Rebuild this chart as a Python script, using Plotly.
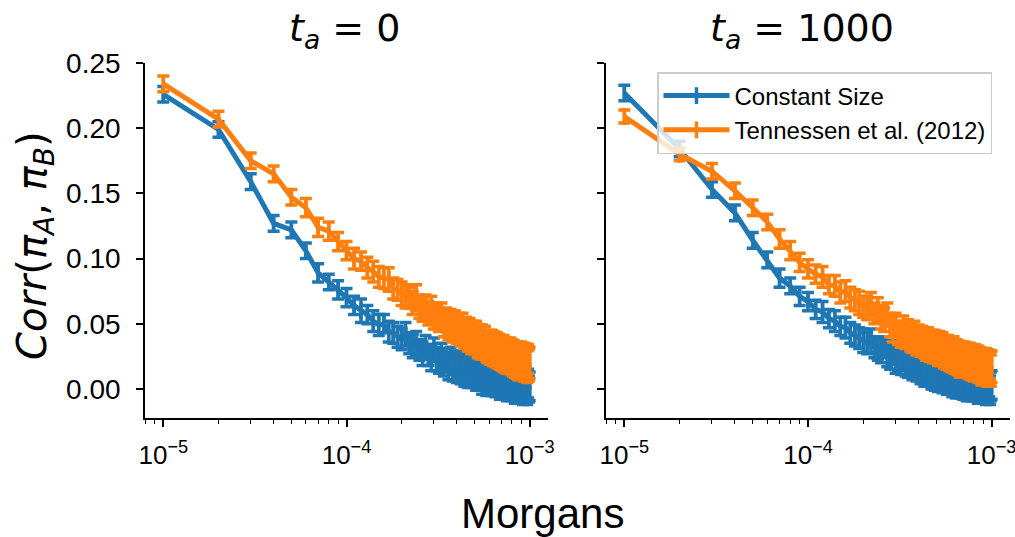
import plotly.graph_objects as go

# Genetic distance between the two loci (Morgans)
morgans = [
    1e-05, 2e-05, 3e-05, 4e-05, 5e-05, 6e-05, 7e-05, 8e-05, 9e-05, 1e-04,
    1.1e-04, 1.2e-04, 1.3e-04, 1.4e-04, 1.5e-04, 1.6e-04, 1.7e-04, 1.8e-04, 1.9e-04, 2e-04,
    2.1e-04, 2.2e-04, 2.3e-04, 2.4e-04, 2.5e-04, 2.6e-04, 2.7e-04, 2.8e-04, 2.9e-04, 3e-04,
    3.1e-04, 3.2e-04, 3.3e-04, 3.4e-04, 3.5e-04, 3.6e-04, 3.7e-04, 3.8e-04, 3.9e-04, 4e-04,
    4.1e-04, 4.2e-04, 4.3e-04, 4.4e-04, 4.5e-04, 4.6e-04, 4.7e-04, 4.8e-04, 4.9e-04, 5e-04,
    5.1e-04, 5.2e-04, 5.3e-04, 5.4e-04, 5.5e-04, 5.6e-04, 5.7e-04, 5.8e-04, 5.9e-04, 6e-04,
    6.1e-04, 6.2e-04, 6.3e-04, 6.4e-04, 6.5e-04, 6.6e-04, 6.7e-04, 6.8e-04, 6.9e-04, 7e-04,
    7.1e-04, 7.2e-04, 7.3e-04, 7.4e-04, 7.5e-04, 7.6e-04, 7.7e-04, 7.8e-04, 7.9e-04, 8e-04,
    8.1e-04, 8.2e-04, 8.3e-04, 8.4e-04, 8.5e-04, 8.6e-04, 8.7e-04, 8.8e-04, 8.9e-04, 9e-04,
    9.1e-04, 9.2e-04, 9.3e-04, 9.4e-04, 9.5e-04, 9.6e-04, 9.7e-04, 9.8e-04, 9.9e-04, 1e-03,
]

# t_a = 0 : constant size
corr_const_t0 = [
    0.226, 0.199, 0.159, 0.127, 0.122, 0.106, 0.089, 0.082, 0.076, 0.070,
    0.064, 0.060, 0.057, 0.052, 0.049, 0.050, 0.044, 0.043, 0.040, 0.038,
    0.042, 0.035, 0.033, 0.035, 0.030, 0.027, 0.032, 0.026, 0.024, 0.030,
    0.023, 0.021, 0.025, 0.019, 0.022, 0.017, 0.023, 0.016, 0.020, 0.015,
    0.019, 0.013, 0.018, 0.012, 0.016, 0.011, 0.017, 0.010, 0.014, 0.012,
    0.009, 0.015, 0.008, 0.012, 0.007, 0.013, 0.009, 0.006, 0.011, 0.007,
    0.012, 0.005, 0.010, 0.006, 0.004, 0.010, 0.005, 0.009, 0.003, 0.008,
    0.004, 0.009, 0.003, 0.007, 0.002, 0.008, 0.003, 0.006, 0.001, 0.007,
    0.002, 0.006, 0.000, 0.005, 0.001, 0.006, 0.002, 0.000, 0.005, 0.001,
    0.005, -0.001, 0.004, 0.000, 0.005, 0.001, -0.001, 0.004, 0.000, 0.002,
]
err_const_t0 = [
    0.006, 0.006, 0.006, 0.006, 0.006, 0.006, 0.007, 0.006, 0.007, 0.007,
    0.007, 0.009, 0.007, 0.008, 0.008, 0.007, 0.008, 0.008, 0.008, 0.008,
    0.009, 0.008, 0.009, 0.009, 0.008, 0.009, 0.009, 0.008, 0.010, 0.009,
    0.009, 0.009, 0.010, 0.009, 0.009, 0.010, 0.009, 0.010, 0.009, 0.010,
    0.010, 0.009, 0.010, 0.010, 0.009, 0.010, 0.010, 0.009, 0.010, 0.010,
    0.010, 0.010, 0.009, 0.010, 0.011, 0.010, 0.010, 0.011, 0.010, 0.010,
    0.011, 0.010, 0.010, 0.011, 0.010, 0.011, 0.010, 0.010, 0.011, 0.010,
    0.011, 0.010, 0.011, 0.010, 0.011, 0.010, 0.011, 0.011, 0.010, 0.011,
    0.010, 0.011, 0.011, 0.010, 0.011, 0.011, 0.010, 0.011, 0.011, 0.010,
    0.011, 0.011, 0.010, 0.011, 0.011, 0.010, 0.011, 0.011, 0.010, 0.011,
]

# t_a = 0 : Tennessen et al. (2012)
corr_tenn_t0 = [
    0.234, 0.207, 0.175, 0.165, 0.147, 0.139, 0.124, 0.121, 0.113, 0.106,
    0.100, 0.098, 0.093, 0.090, 0.086, 0.085, 0.084, 0.077, 0.076, 0.073,
    0.071, 0.070, 0.066, 0.070, 0.063, 0.061, 0.063, 0.058, 0.061, 0.055,
    0.056, 0.053, 0.056, 0.050, 0.053, 0.048, 0.051, 0.046, 0.050, 0.045,
    0.048, 0.043, 0.047, 0.041, 0.045, 0.040, 0.044, 0.038, 0.041, 0.037,
    0.041, 0.035, 0.039, 0.034, 0.038, 0.033, 0.037, 0.032, 0.031, 0.035,
    0.030, 0.034, 0.029, 0.033, 0.028, 0.031, 0.027, 0.031, 0.026, 0.030,
    0.025, 0.029, 0.024, 0.028, 0.024, 0.027, 0.023, 0.027, 0.022, 0.026,
    0.021, 0.025, 0.021, 0.024, 0.020, 0.025, 0.019, 0.023, 0.020, 0.024,
    0.019, 0.022, 0.018, 0.023, 0.019, 0.022, 0.017, 0.023, 0.018, 0.020,
]
err_tenn_t0 = [
    0.006, 0.006, 0.006, 0.006, 0.006, 0.007, 0.007, 0.007, 0.007, 0.007,
    0.008, 0.007, 0.008, 0.008, 0.008, 0.008, 0.009, 0.008, 0.008, 0.009,
    0.009, 0.008, 0.009, 0.010, 0.009, 0.009, 0.009, 0.009, 0.010, 0.009,
    0.010, 0.009, 0.010, 0.010, 0.009, 0.010, 0.010, 0.010, 0.010, 0.010,
    0.010, 0.010, 0.011, 0.010, 0.010, 0.011, 0.010, 0.011, 0.011, 0.010,
    0.011, 0.011, 0.010, 0.011, 0.011, 0.010, 0.011, 0.011, 0.011, 0.010,
    0.011, 0.011, 0.011, 0.011, 0.011, 0.012, 0.011, 0.011, 0.011, 0.011,
    0.011, 0.012, 0.011, 0.011, 0.012, 0.011, 0.011, 0.012, 0.011, 0.012,
    0.011, 0.012, 0.012, 0.011, 0.012, 0.011, 0.012, 0.012, 0.011, 0.012,
    0.012, 0.011, 0.012, 0.012, 0.011, 0.012, 0.012, 0.011, 0.012, 0.012,
]

# t_a = 1000 : constant size
corr_const_t1000 = [
    0.227, 0.184, 0.153, 0.135, 0.114, 0.099, 0.085, 0.079, 0.071, 0.067,
    0.061, 0.059, 0.054, 0.052, 0.048, 0.047, 0.043, 0.041, 0.039, 0.037,
    0.035, 0.037, 0.032, 0.031, 0.029, 0.032, 0.026, 0.024, 0.028, 0.021,
    0.023, 0.020, 0.025, 0.019, 0.018, 0.022, 0.016, 0.020, 0.015, 0.018,
    0.014, 0.017, 0.012, 0.016, 0.011, 0.015, 0.010, 0.014, 0.009, 0.013,
    0.008, 0.012, 0.010, 0.007, 0.012, 0.009, 0.006, 0.011, 0.007, 0.010,
    0.005, 0.010, 0.006, 0.004, 0.009, 0.005, 0.010, 0.004, 0.008, 0.003,
    0.007, 0.004, 0.002, 0.007, 0.003, 0.008, 0.002, 0.006, 0.001, 0.005,
    0.007, 0.001, 0.005, 0.000, 0.006, 0.002, 0.000, 0.005, 0.001, 0.006,
    0.000, 0.004, -0.001, 0.005, 0.001, 0.000, 0.004, -0.001, 0.002, 0.003,
]
err_const_t1000 = [
    0.006, 0.006, 0.006, 0.006, 0.006, 0.006, 0.007, 0.006, 0.007, 0.007,
    0.007, 0.008, 0.007, 0.008, 0.007, 0.008, 0.008, 0.008, 0.008, 0.009,
    0.008, 0.009, 0.008, 0.009, 0.009, 0.008, 0.009, 0.009, 0.009, 0.009,
    0.009, 0.009, 0.010, 0.009, 0.009, 0.010, 0.009, 0.010, 0.009, 0.010,
    0.010, 0.009, 0.010, 0.010, 0.009, 0.010, 0.010, 0.010, 0.010, 0.010,
    0.010, 0.010, 0.010, 0.010, 0.011, 0.010, 0.010, 0.011, 0.010, 0.010,
    0.011, 0.010, 0.010, 0.011, 0.010, 0.011, 0.010, 0.011, 0.010, 0.011,
    0.010, 0.011, 0.011, 0.010, 0.011, 0.010, 0.011, 0.011, 0.010, 0.011,
    0.011, 0.010, 0.011, 0.011, 0.010, 0.011, 0.011, 0.010, 0.011, 0.011,
    0.010, 0.011, 0.011, 0.010, 0.011, 0.011, 0.010, 0.011, 0.011, 0.011,
]

# t_a = 1000 : Tennessen et al. (2012)
corr_tenn_t1000 = [
    0.209, 0.180, 0.167, 0.152, 0.139, 0.128, 0.115, 0.106, 0.097, 0.092,
    0.088, 0.086, 0.080, 0.079, 0.074, 0.075, 0.070, 0.068, 0.066, 0.063,
    0.062, 0.065, 0.058, 0.061, 0.055, 0.053, 0.057, 0.049, 0.046, 0.049,
    0.043, 0.042, 0.046, 0.040, 0.043, 0.039, 0.038, 0.042, 0.036, 0.039,
    0.035, 0.038, 0.034, 0.033, 0.037, 0.032, 0.035, 0.031, 0.034, 0.030,
    0.029, 0.033, 0.028, 0.032, 0.027, 0.030, 0.026, 0.030, 0.025, 0.028,
    0.024, 0.029, 0.023, 0.027, 0.022, 0.026, 0.021, 0.025, 0.022, 0.020,
    0.025, 0.021, 0.020, 0.024, 0.019, 0.023, 0.018, 0.022, 0.019, 0.017,
    0.022, 0.018, 0.017, 0.021, 0.016, 0.020, 0.017, 0.015, 0.020, 0.016,
    0.019, 0.015, 0.020, 0.016, 0.014, 0.019, 0.015, 0.018, 0.014, 0.017,
]
err_tenn_t1000 = [
    0.005, 0.005, 0.006, 0.006, 0.006, 0.006, 0.007, 0.007, 0.007, 0.007,
    0.007, 0.008, 0.007, 0.008, 0.008, 0.008, 0.008, 0.008, 0.009, 0.008,
    0.009, 0.009, 0.008, 0.009, 0.009, 0.009, 0.009, 0.009, 0.010, 0.009,
    0.009, 0.010, 0.010, 0.009, 0.010, 0.010, 0.010, 0.010, 0.010, 0.010,
    0.010, 0.010, 0.010, 0.011, 0.010, 0.011, 0.010, 0.011, 0.011, 0.010,
    0.011, 0.011, 0.010, 0.011, 0.011, 0.011, 0.011, 0.011, 0.011, 0.010,
    0.011, 0.011, 0.011, 0.011, 0.011, 0.011, 0.012, 0.011, 0.011, 0.011,
    0.011, 0.012, 0.011, 0.011, 0.011, 0.012, 0.011, 0.011, 0.012, 0.011,
    0.012, 0.011, 0.011, 0.012, 0.011, 0.012, 0.011, 0.012, 0.011, 0.012,
    0.011, 0.012, 0.011, 0.012, 0.012, 0.011, 0.012, 0.011, 0.012, 0.012,
]

panel_titles = ["<i>t</i><sub><i>a</i></sub> = 0", "<i>t</i><sub><i>a</i></sub> = 1000"]
series_names = ["Constant Size", "Tennessen et al. (2012)"]
colors = ["#1f77b4", "#ff7f0e"]
y_ticks = [0.00, 0.05, 0.10, 0.15, 0.20, 0.25]
x_ticks = [1e-5, 1e-4, 1e-3]
x_ticktext = ["10<sup>−5</sup>", "10<sup>−4</sup>", "10<sup>−3</sup>"]
x_minor = [8e-6, 9e-6, 2e-5, 3e-5, 4e-5, 5e-5, 6e-5, 7e-5, 8e-5, 9e-5,
           2e-4, 3e-4, 4e-4, 5e-4, 6e-4, 7e-4, 8e-4, 9e-4]

SANS = "Liberation Sans, Arial, sans-serif"
MATH = "DejaVu Sans, sans-serif"
W, H = 1015, 537

panels = [
    [(corr_const_t0, err_const_t0), (corr_tenn_t0, err_tenn_t0)],
    [(corr_const_t1000, err_const_t1000), (corr_tenn_t1000, err_tenn_t1000)],
]
x_domains = [[145 / W, 548 / W], [606 / W, 1010 / W]]
y_domain = [(H - 418) / H, (H - 63) / H]

fig = go.Figure()
for p, series in enumerate(panels):
    xa = "x" if p == 0 else "x2"
    ya = "y" if p == 0 else "y2"
    for s, (vals, errs) in enumerate(series):
        fig.add_trace(go.Scatter(
            x=morgans, y=vals, xaxis=xa, yaxis=ya,
            mode="lines+markers",
            name=series_names[s],
            showlegend=(p == 1),
            line=dict(color=colors[s], width=5),
            marker=dict(symbol="line-ns", size=12, color=colors[s],
                        line=dict(color=colors[s], width=3.5)),
            error_y=dict(type="data", array=errs, color=colors[s],
                         thickness=3.5, width=6),
        ))

axis_common = dict(
    showline=True, linecolor="black", linewidth=1.6, mirror=False,
    ticks="outside", ticklen=7, tickwidth=1.6, tickcolor="black",
    showgrid=False, zeroline=False, automargin=False,
    ticklabeloverflow="allow",
)

for p in range(2):
    sx = "" if p == 0 else "2"
    fig.update_layout(**{
        f"xaxis{sx}": dict(
            axis_common, type="log", domain=x_domains[p], range=[-5.1, -2.9],
            anchor=f"y{sx}", tickmode="array", tickvals=x_ticks, ticktext=x_ticktext,
            tickfont=dict(family=SANS, size=26, color="black"),
            ticklabelstandoff=6,
            minor=dict(ticks="outside", ticklen=4, tickwidth=1.2, tickcolor="black",
                       tickmode="array", tickvals=x_minor, showgrid=False),
        ),
        f"yaxis{sx}": dict(
            axis_common, domain=y_domain, range=[-0.0223, 0.25], anchor=f"x{sx}",
            tickmode="array", tickvals=y_ticks, tickformat=".2f",
            tickfont=dict(family=SANS, size=28, color="black"),
            showticklabels=(p == 0), ticklabelstandoff=10,
        ),
    })

annotations = []
for p, cx in enumerate([344, 802]):
    annotations.append(dict(
        text=panel_titles[p], x=cx / W, y=(H - 30) / H,
        xref="paper", yref="paper", showarrow=False, xanchor="center", yanchor="middle",
        font=dict(family=MATH, size=38, color="black"),
    ))
annotations.append(dict(
    text="Morgans", x=542 / W, y=(H - 513) / H, xref="paper", yref="paper",
    showarrow=False, xanchor="center", yanchor="middle",
    font=dict(family=SANS, size=42, color="black"),
))
annotations.append(dict(
    text="<i>Corr</i>(<i>π</i><sub><i>A</i></sub>, <i>π</i><sub><i>B</i></sub>)",
    x=35 / W, y=(H - 246) / H, xref="paper", yref="paper", textangle=-90,
    showarrow=False, xanchor="center", yanchor="middle",
    font=dict(family=MATH, size=40, color="black"),
))

fig.update_layout(
    width=W, height=H,
    margin=dict(l=0, r=0, t=0, b=0, autoexpand=False),
    paper_bgcolor="white", plot_bgcolor="white",
    annotations=annotations,
    legend=dict(
        x=657 / W, y=(H - 72) / H, xanchor="left", yanchor="top",
        bgcolor="rgba(255,255,255,0.8)", bordercolor="#cccccc", borderwidth=1.5,
        font=dict(family=SANS, size=24, color="black"),
        itemwidth=66,
    ),
)

fig.write_html("out.html")
